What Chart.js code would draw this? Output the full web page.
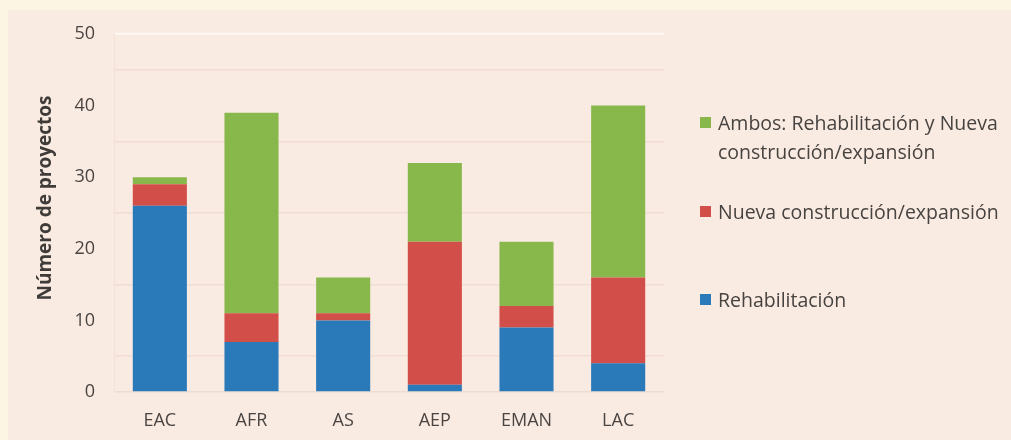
<!DOCTYPE html>
<html>
<head>
<meta charset="utf-8">
<script src="https://cdn.jsdelivr.net/npm/chart.js@4"></script>
<style>
  html, body { margin: 0; padding: 0; background: #fdf5e4; }
  #wrap { position: relative; width: 1011px; height: 440px; }
  canvas { position: absolute; left: 0; top: 0; }
  #legend { position: absolute; left: 700px; top: 0; font-family: "Open Sans", sans-serif; font-size: 19.5px; color: #474340; }
  .item { position: absolute; left: 0; white-space: nowrap; line-height: 29px; }
  .sw { position: absolute; left: 0; top: 9px; width: 11px; height: 11px; }
  .txt { position: absolute; left: 18px; top: 0; }
</style>
</head>
<body>
<div id="wrap">
  <canvas id="c" width="1011" height="440"></canvas>
  <div id="legend"></div>
</div>
<script>
const categories = ["EAC", "AFR", "AS", "AEP", "EMAN", "LAC"];
const rehabilitacion = [26, 7, 10, 1, 9, 4];
const nuevaConstruccion = [3, 4, 1, 20, 3, 12];
const ambos = [1, 28, 5, 11, 9, 24];
const seriesLabels = [
  "Rehabilitación",
  "Nueva construcción/expansión",
  ["Ambos: Rehabilitación y Nueva", "construcción/expansión"]
];
const seriesColors = ["#2a79b9", "#d24e48", "#88b84c"];
const yAxisTitle = "Número de proyectos";
const yTicksMax = 50;

const bgPlugin = {
  id: 'bg',
  beforeDraw(chart) {
    const ctx = chart.ctx;
    ctx.save();
    ctx.fillStyle = '#fdf5e4';
    ctx.fillRect(0, 0, chart.width, chart.height);
    ctx.fillStyle = '#faebe2';
    ctx.fillRect(8, 10, chart.width - 8, chart.height - 10);
    ctx.restore();
  }
};

const yTitlePlugin = {
  id: 'ytitle',
  afterDraw(chart) {
    const ctx = chart.ctx;
    ctx.save();
    ctx.translate(46, 198);
    ctx.rotate(-Math.PI / 2);
    ctx.font = 'bold 19px "Open Sans"';
    ctx.fillStyle = '#3f3b39';
    ctx.textAlign = 'center';
    ctx.textBaseline = 'middle';
    ctx.fillText(yAxisTitle, 0, 0);
    ctx.restore();
  }
};

const datasets = [rehabilitacion, nuevaConstruccion, ambos].map((d, i) => ({
  label: Array.isArray(seriesLabels[i]) ? seriesLabels[i].join(' ') : seriesLabels[i],
  data: d,
  backgroundColor: seriesColors[i],
  borderWidth: 0,
  categoryPercentage: 1.0,
  barPercentage: 0.59
}));

new Chart(document.getElementById('c'), {
  type: 'bar',
  data: { labels: categories, datasets },
  plugins: [bgPlugin, yTitlePlugin],
  options: {
    responsive: false,
    animation: false,
    devicePixelRatio: 1,
    layout: { padding: { left: 0, right: 347, top: 34, bottom: 0 } },
    plugins: { legend: { display: false }, tooltip: { enabled: false } },
    scales: {
      x: {
        stacked: true,
        grid: { display: false, drawTicks: false },
        border: { display: false },
        ticks: { color: '#4a4543', font: { family: 'Open Sans', size: 18 }, padding: 18 },
        afterFit(s) { s.height = 48; }
      },
      y: {
        stacked: true,
        min: 0, max: yTicksMax,
        ticks: {
          stepSize: 5,
          color: '#4a4543',
          font: { family: 'Open Sans', size: 18 },
          padding: 19,
          callback: v => (v % 10 === 0 ? v : '')
        },
        grid: {
          drawTicks: false,
          color: ctx => {
            const v = ctx.tick.value;
            if (v === 50) return 'rgba(255,255,255,0.8)';
            if (v === 0) return '#efdcd1';
            return v % 10 === 5 ? '#f1ddd2' : 'rgba(0,0,0,0)';
          },
          lineWidth: 1.5
        },
        border: { display: true, color: '#f3e1d7', width: 1 },
        title: { display: false },
        afterFit(s) { s.width = 114; }
      }
    }
  }
});

// HTML legend built from the series (top to bottom: Ambos, Nueva, Rehabilitación)
const legendTops = [108, 197, 285];
const legend = document.getElementById('legend');
[2, 1, 0].forEach((si, k) => {
  const item = document.createElement('div');
  item.className = 'item';
  item.style.top = legendTops[k] + 'px';
  const sw = document.createElement('div');
  sw.className = 'sw';
  sw.style.background = seriesColors[si];
  const txt = document.createElement('div');
  txt.className = 'txt';
  const lab = seriesLabels[si];
  txt.innerHTML = (Array.isArray(lab) ? lab : [lab]).map(t => t.replace(/&/g, '&amp;')).join('<br>');
  item.appendChild(sw);
  item.appendChild(txt);
  legend.appendChild(item);
});
</script>
</body>
</html>
